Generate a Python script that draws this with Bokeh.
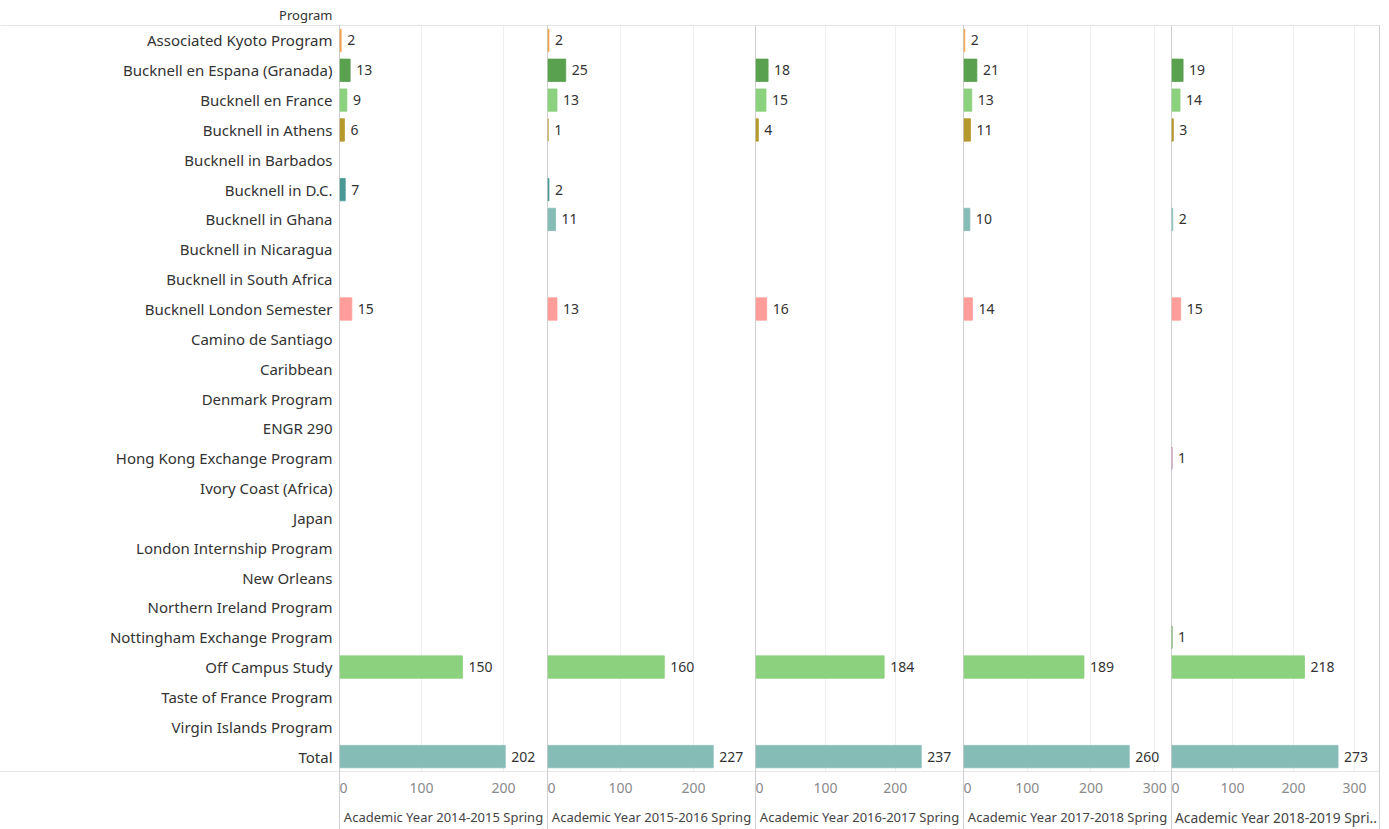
from bokeh.plotting import figure
from bokeh.layouts import row
from bokeh.models import ColumnDataSource, Range1d, FixedTicker, Span
from bokeh.core.properties import value
from bokeh.embed import file_html
from bokeh.resources import INLINE

programs = [
    "Associated Kyoto Program", "Bucknell en Espana (Granada)", "Bucknell en France",
    "Bucknell in Athens", "Bucknell in Barbados", "Bucknell in D.C.", "Bucknell in Ghana",
    "Bucknell in Nicaragua", "Bucknell in South Africa", "Bucknell London Semester",
    "Camino de Santiago", "Caribbean", "Denmark Program", "ENGR 290",
    "Hong Kong Exchange Program", "Ivory Coast (Africa)", "Japan", "London Internship Program",
    "New Orleans", "Northern Ireland Program", "Nottingham Exchange Program",
    "Off Campus Study", "Taste of France Program", "Virgin Islands Program", "Total",
]

colors = [
    "#F5A04A", "#59A14F", "#8CD17D", "#B6992D", "#F1CE63", "#499894", "#86BCB6",
    "#E15759", "#FF9D9A", "#FF9D9A", "#79706E", "#BAB0AC", "#D37295", "#FABFD2",
    "#B77FA8", "#D4A6C8", "#9D7660", "#D7B5A6", "#4E79A7", "#A0CBE8", "#59A14F",
    "#8CD17D", "#F1CE63", "#A0CBE8", "#86BCB6",
]

years = [
    "Academic Year 2014-2015 Spring",
    "Academic Year 2015-2016 Spring",
    "Academic Year 2016-2017 Spring",
    "Academic Year 2017-2018 Spring",
    "Academic Year 2018-2019 Spri..",
]

N = None
ay_2014_2015 = [2, 13, 9, 6, N, 7, N, N, N, 15, N, N, N, N, N, N, N, N, N, N, N, 150, N, N, 202]
ay_2015_2016 = [2, 25, 13, 1, N, 2, 11, N, N, 13, N, N, N, N, N, N, N, N, N, N, N, 160, N, N, 227]
ay_2016_2017 = [N, 18, 15, 4, N, N, N, N, N, 16, N, N, N, N, N, N, N, N, N, N, N, 184, N, N, 237]
ay_2017_2018 = [2, 21, 13, 11, N, N, 10, N, N, 14, N, N, N, N, N, N, N, N, N, N, N, 189, N, N, 260]
ay_2018_2019 = [N, 19, 14, 3, N, N, 2, N, N, 15, N, N, N, N, 1, N, N, N, N, N, 1, 218, N, N, 273]
series = [ay_2014_2015, ay_2015_2016, ay_2016_2017, ay_2017_2018, ay_2018_2019]

tick_values = [0, 100, 200, 300]

FONT = "Noto Sans"
LINE = "#cfcfcf"
H = 829
TOP = 25
BOTTOM = 58
n = len(programs)

# ---- label column ----
lab = figure(width=339, height=H, output_backend="svg", toolbar_location=None,
             x_range=Range1d(0, 1), y_range=Range1d(n, 0),
             min_border_left=0, min_border_right=0, min_border_top=TOP,
             min_border_bottom=BOTTOM)
lab.axis.visible = False
lab.grid.visible = False
lab.outline_line_color = None
lab.text(x=[1] * n, y=[i + 0.5 for i in range(n)], text=programs,
         x_offset=-7, text_align="right", text_baseline="middle",
         text_font=value(FONT), text_font_size="15px", text_color="#333333")
lab.add_layout(Span(location=0, dimension="width", line_color=LINE, line_width=1))
lab.add_layout(Span(location=n, dimension="width", line_color=LINE, line_width=1))
lab.title.text = "Program"
lab.title.align = "right"
lab.title.offset = 7
lab.title.standoff = 3
lab.title.text_font = FONT
lab.title.text_font_size = "13px"
lab.title.text_font_style = "normal"
lab.title.text_color = "#333333"

figs = [lab]
for k, (yr, vals) in enumerate(zip(years, series)):
    total = max(v for v in vals if v is not None)
    last = k == len(years) - 1
    w = 209 if last else 208
    xmax = total * 1.255
    p = figure(width=w, height=H, output_backend="svg", toolbar_location=None,
               x_range=Range1d(0, xmax), y_range=Range1d(n, 0),
               min_border_left=0, min_border_right=0, min_border_top=TOP,
               min_border_bottom=BOTTOM)
    p.border_fill_color = None
    p.background_fill_color = None
    grad = "linear-gradient(#cfcfcf, #cfcfcf) left 25px / 1px calc(100% - 25px) no-repeat"
    if last:
        grad += ", linear-gradient(#cfcfcf, #cfcfcf) right 25px / 1px calc(100% - 25px) no-repeat"
    p.styles = {"background": grad}
    idx = [i for i, v in enumerate(vals) if v is not None]
    src = ColumnDataSource(dict(
        y=[i + 0.5 for i in idx],
        v=[vals[i] for i in idx],
        lbl=[str(vals[i]) for i in idx],
        c=[colors[i] for i in idx],
    ))
    p.hbar(y="y", left=0, right="v", height=0.75, fill_color="c", line_color="c",
           line_width=0.8, source=src)
    p.text(x="v", y="y", text="lbl", source=src, x_offset=6, text_baseline="middle",
           text_align="left", text_font=value(FONT), text_font_size="14px",
           text_color="#333333")
    p.yaxis.visible = False
    p.ygrid.visible = False
    p.outline_line_color = None
    p.xgrid.grid_line_color = "#efefef"
    p.xaxis.ticker = FixedTicker(ticks=tick_values)
    p.xaxis.axis_line_color = None
    p.xaxis.major_tick_line_color = None
    p.xaxis.minor_tick_line_color = None
    p.xaxis.major_tick_out = 0
    p.xaxis.major_tick_in = 0
    p.xaxis.major_label_standoff = 11
    p.xaxis.major_label_text_font = FONT
    p.xaxis.major_label_text_font_size = "14px"
    p.xaxis.major_label_text_color = "#8a8a8a"
    p.xaxis.axis_label = yr
    p.xaxis.axis_label_standoff = 12
    p.xaxis.axis_label_text_font = FONT
    p.xaxis.axis_label_text_font_size = "13.8px" if last else "13px"
    p.xaxis.axis_label_text_font_style = "normal"
    p.xaxis.axis_label_text_color = "#444444"
    p.add_layout(Span(location=0, dimension="height", line_color=LINE, line_width=1))
    p.add_layout(Span(location=0, dimension="width", line_color=LINE, line_width=1))
    p.add_layout(Span(location=n, dimension="width", line_color=LINE, line_width=1))
    if last:
        p.add_layout(Span(location=xmax, dimension="height", line_color=LINE,
                          line_width=1))
    figs.append(p)

layout = row(*figs, spacing=0)
open("out.html", "w").write(file_html(layout, INLINE))
